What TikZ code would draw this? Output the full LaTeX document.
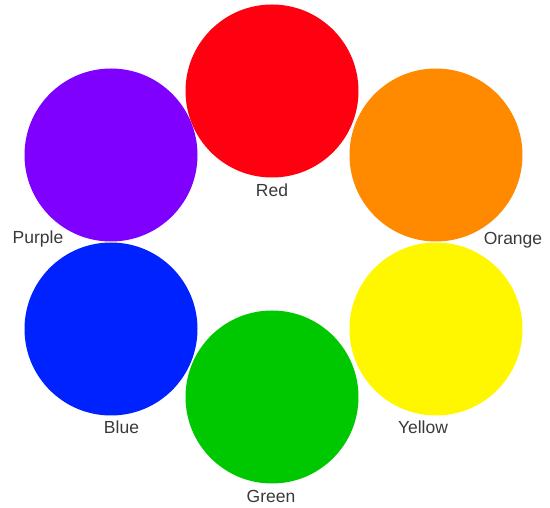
\documentclass[tikz,border=0pt]{standalone}
\usepackage{fontspec}
\setmainfont{Liberation Sans}
\definecolor{cRed}{HTML}{FE0010}
\definecolor{cOrange}{HTML}{FF8A00}
\definecolor{cYellow}{HTML}{FFF700}
\definecolor{cGreen}{HTML}{00C800}
\definecolor{cBlue}{HTML}{0022FF}
\definecolor{cPurple}{HTML}{7F00FF}
\definecolor{txt}{HTML}{3A3A3A}
\begin{document}
\begin{tikzpicture}[x=1pt,y=-1pt,
  disc/.style={circle, inner sep=0pt, minimum size=173pt, draw=none},
  lbl/.style={text=txt, font=\fontsize{17.5}{20}\selectfont, inner sep=0pt, anchor=base}]
\useasboundingbox[fill=white] (0,0) rectangle (550,508);
\node[disc, fill=cRed] (red) at (272,91) {};
\node[disc, fill=cOrange] (orange) at (436,155) {};
\node[disc, fill=cYellow] (yellow) at (436,329) {};
\node[disc, fill=cGreen] (green) at (272,397) {};
\node[disc, fill=cBlue] (blue) at (111,329) {};
\node[disc, fill=cPurple] (purple) at (111,155) {};
\node[lbl] (lred) at (272,197) {Red};
\node[lbl] (lorange) at (513,244.5) {Orange};
\node[lbl] (lyellow) at (423,434) {Yellow};
\node[lbl] (lgreen) at (271,503) {Green};
\node[lbl] (lblue) at (121.5,434) {Blue};
\node[lbl] (lpurple) at (38,243.5) {Purple};
\end{tikzpicture}
\end{document}
